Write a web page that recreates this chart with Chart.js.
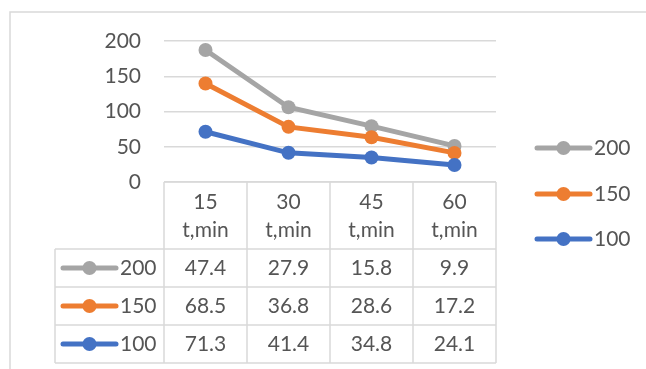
<!DOCTYPE html>
<html>
<head>
<meta charset="utf-8">
<script src="https://cdn.jsdelivr.net/npm/chart.js@4/dist/chart.umd.min.js"></script>
<style>
  html, body { margin: 0; padding: 0; background: #ffffff; }
  #c { display: block; }
</style>
</head>
<body>
<canvas id="c" width="646" height="369"></canvas>
<script>
// Time points (columns of the data table)
const timeLabels = ['15', '30', '45', '60'];
const timeUnit = 't,min';

// Series values per time point (stacked on top of each other)
const seriesNames = ['200', '150', '100'];
const values200 = [47.4, 27.9, 15.8, 9.9];
const values150 = [68.5, 36.8, 28.6, 17.2];
const values100 = [71.3, 41.4, 34.8, 24.1];
const seriesColors = ['#A5A5A5', '#ED7D31', '#4472C4'];

// Value axis
const yMin = 0;
const yMax = 200;
const yStep = 50;

const TEXT = '#555555';
const GRID = '#D9D9D9';
const FONT_FAMILY = 'Lato, "Open Sans", sans-serif';
const FONT = '21px ' + FONT_FAMILY;

const rowsInTable = [
  { name: seriesNames[0], values: values200, color: seriesColors[0] },
  { name: seriesNames[1], values: values150, color: seriesColors[1] },
  { name: seriesNames[2], values: values100, color: seriesColors[2] }
];

function drawKey(ctx, x1, x2, y, color) {
  ctx.save();
  ctx.strokeStyle = color;
  ctx.lineWidth = 5;
  ctx.lineCap = 'round';
  ctx.beginPath();
  ctx.moveTo(x1, y);
  ctx.lineTo(x2, y);
  ctx.stroke();
  ctx.fillStyle = color;
  ctx.beginPath();
  ctx.arc((x1 + x2) / 2, y, 7, 0, Math.PI * 2);
  ctx.fill();
  ctx.restore();
}

// Frame, data table and legend drawn around the plot area
const decorations = {
  id: 'decorations',
  beforeDraw(chart) {
    const ctx = chart.ctx;
    ctx.save();
    ctx.fillStyle = '#ffffff';
    ctx.fillRect(0, 0, chart.width, chart.height);
    ctx.strokeStyle = GRID;
    ctx.lineWidth = 1.5;
    ctx.beginPath();
    ctx.moveTo(10, chart.height);
    ctx.lineTo(10, 12);
    ctx.lineTo(chart.width, 12);
    ctx.stroke();
    ctx.restore();
  },
  afterDraw(chart) {
    const ctx = chart.ctx;
    const xs = chart.scales.x;
    const area = chart.chartArea;
    const n = timeLabels.length;
    const colW = (area.right - area.left) / n;
    const top = area.bottom;
    const headerBottom = 249;
    const rowH = 38;
    const keyLeft = 55;
    const tableBottom = headerBottom + rowH * rowsInTable.length;

    ctx.save();
    ctx.strokeStyle = GRID;
    ctx.lineWidth = 1.5;
    ctx.beginPath();
    // header top
    ctx.moveTo(area.left, top);
    ctx.lineTo(area.right, top);
    // vertical column lines
    for (let i = 0; i <= n; i++) {
      const x = area.left + i * colW;
      ctx.moveTo(x, top);
      ctx.lineTo(x, tableBottom);
    }
    // row lines
    for (let r = 0; r <= rowsInTable.length; r++) {
      const y = headerBottom + r * rowH;
      ctx.moveTo(keyLeft, y);
      ctx.lineTo(area.right, y);
    }
    ctx.moveTo(keyLeft, headerBottom);
    ctx.lineTo(keyLeft, tableBottom);
    ctx.stroke();

    ctx.fillStyle = TEXT;
    ctx.font = FONT;
    ctx.textAlign = 'center';
    ctx.textBaseline = 'middle';
    timeLabels.forEach((lab, i) => {
      const cx = xs.getPixelForValue(i);
      ctx.fillText(lab, cx, 202);
      ctx.fillText(timeUnit, cx, 230);
    });

    rowsInTable.forEach((row, r) => {
      const cy = headerBottom + r * rowH + rowH / 2;
      row.values.forEach((v, i) => {
        ctx.fillStyle = TEXT;
        ctx.textAlign = 'center';
        ctx.fillText(v.toFixed(1), xs.getPixelForValue(i), cy);
      });
      drawKey(ctx, 63, 116, cy, row.color);
      ctx.fillStyle = TEXT;
      ctx.textAlign = 'left';
      ctx.fillText(row.name, 120, cy);
    });

    // legend on the right
    const legendY = [148, 194, 239];
    rowsInTable.forEach((row, r) => {
      drawKey(ctx, 537, 590, legendY[r], row.color);
      ctx.fillStyle = TEXT;
      ctx.textAlign = 'left';
      ctx.fillText(row.name, 594, legendY[r]);
    });
    ctx.restore();
  }
};

function lineDataset(label, data, color) {
  return {
    label,
    data,
    borderColor: color,
    backgroundColor: color,
    borderWidth: 5,
    pointRadius: 7,
    pointHoverRadius: 7,
    pointBorderWidth: 0,
    pointBackgroundColor: color,
    fill: false,
    tension: 0
  };
}

new Chart(document.getElementById('c'), {
  type: 'line',
  data: {
    labels: timeLabels,
    // bottom of the stack first
    datasets: [
      lineDataset(seriesNames[2], values100, seriesColors[2]),
      lineDataset(seriesNames[1], values150, seriesColors[1]),
      lineDataset(seriesNames[0], values200, seriesColors[0])
    ]
  },
  options: {
    responsive: false,
    animation: false,
    devicePixelRatio: 1,
    layout: { padding: { left: 0, right: 150, top: 41, bottom: 187 } },
    plugins: {
      legend: { display: false },
      tooltip: { enabled: false }
    },
    scales: {
      x: {
        display: false,
        offset: true
      },
      y: {
        stacked: true,
        min: yMin,
        max: yMax,
        afterFit(scale) { scale.width = 164; },
        border: { display: false },
        grid: { color: GRID, lineWidth: 1.5, drawTicks: false },
        ticks: {
          stepSize: yStep,
          color: TEXT,
          padding: 23,
          font: { family: FONT_FAMILY, size: 21 }
        }
      }
    }
  },
  plugins: [decorations]
});
</script>
</body>
</html>
